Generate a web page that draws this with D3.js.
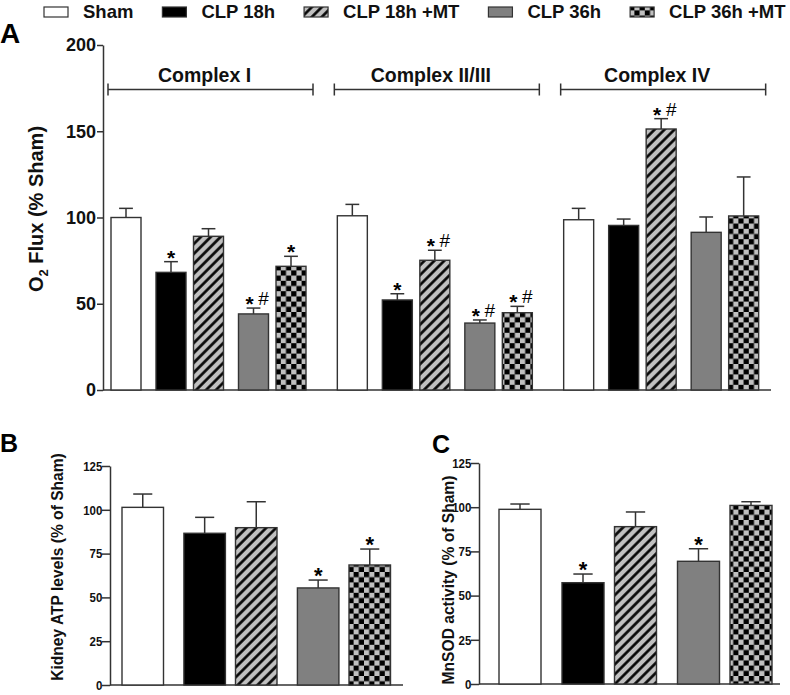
<!DOCTYPE html>
<html>
<head>
<meta charset="utf-8">
<script src="https://cdn.jsdelivr.net/npm/d3@7"></script>
<style>
	body { margin: 0; background: #fff; }
	svg { display: block; font-family: Arial, "Liberation Sans", sans-serif; }
</style>
</head>
<body>
<svg id="chart" width="790" height="695"></svg>
<script>
// ---- data ----
const groups = ["Sham", "CLP 18h", "CLP 18h +MT", "CLP 36h", "CLP 36h +MT"];
const complexes = ["Complex I", "Complex II/III", "Complex IV"];

// O2 flux (% Sham), one row per complex
const fluxMean = [
	[100, 68.2, 89.1, 44.1, 71.7],
	[101, 52.2, 75.2, 38.8, 44.8],
	[98.7, 95.4, 151.3, 91.4, 100.9]
];
const fluxErr = [
	[5.3, 6.2, 4.4, 3.4, 5.8],
	[6.6, 3.6, 5.8, 1.8, 3.7],
	[6.6, 3.7, 6.0, 8.9, 22.6]
];
const fluxSig = [
	["", "*", "", "*#", "*"],
	["", "*", "*#", "*#", "*#"],
	["", "", "*#", "", ""]
];

// kidney ATP levels (% of Sham)
const atpMean = [101.4, 86.6, 89.8, 55.4, 68.5];
const atpErr = [7.6, 9.1, 14.8, 4.5, 9.1];
const atpSig = ["", "", "", "*", "*"];

// MnSOD activity (% of Sham)
const sodMean = [98.8, 57.3, 89.0, 69.4, 101.0];
const sodErr = [3.0, 4.9, 8.3, 7.1, 2.1];
const sodSig = ["", "*", "", "*", ""];

const ticksA = [0, 50, 100, 150, 200];
const ticksBC = [0, 25, 50, 75, 100, 125];

// ---- svg / patterns ----
var svg = d3.select("#chart");
var defs = svg.append("defs");

var hatch = defs.append("pattern")
	.attr("id", "hatch")
	.attr("patternUnits", "userSpaceOnUse")
	.attr("width", 7).attr("height", 7)
	.attr("patternTransform", "rotate(45)");
hatch.append("rect").attr("width", 7).attr("height", 7).attr("fill", "#c0c0c0");
hatch.append("line")
	.attr("x1", 1.5).attr("y1", 0).attr("x2", 1.5).attr("y2", 7)
	.attr("stroke", "#000").attr("stroke-width", 2.6);

var cs = 5.2;
var checker = defs.append("pattern")
	.attr("id", "checker")
	.attr("patternUnits", "userSpaceOnUse")
	.attr("width", cs * 2).attr("height", cs * 2);
checker.append("rect").attr("width", cs * 2).attr("height", cs * 2).attr("fill", "#c0c0c0");
checker.append("rect").attr("width", cs).attr("height", cs).attr("fill", "#000");
checker.append("rect").attr("x", cs).attr("y", cs).attr("width", cs).attr("height", cs).attr("fill", "#000");

var fill = d3.scaleOrdinal()
	.domain(groups)
	.range(["#ffffff", "#000000", "url(#hatch)", "#808080", "url(#checker)"]);

var ink = "#333";

// bars 0 | 1 2 | 3 4  -> a little extra gap before 1 and 3
function slot(i) {
	return i + (i >= 1 ? 0.2 : 0) + (i >= 3 ? 0.2 : 0);
}

// ======== bars + error bars + significance marks ========
function drawBars(g, means, errs, sigs, xs, barW, y, starSize) {
	var rows = groups.map((name, i) => ({
		name: name, mean: means[i], err: errs[i], sig: sigs[i], x: xs(slot(i))
	}));

	// error bar (upper only)
	var eb = g.selectAll(".err").data(rows).enter().append("g").attr("class", "err");
	eb.append("line")
		.attr("x1", d => d.x + barW / 2).attr("x2", d => d.x + barW / 2)
		.attr("y1", d => y(d.mean)).attr("y2", d => y(d.mean + d.err))
		.attr("stroke", ink).attr("stroke-width", 1.5);
	eb.append("line")
		.attr("x1", d => d.x + barW / 2 - barW * 0.23)
		.attr("x2", d => d.x + barW / 2 + barW * 0.23)
		.attr("y1", d => y(d.mean + d.err)).attr("y2", d => y(d.mean + d.err))
		.attr("stroke", ink).attr("stroke-width", 1.5);

	g.selectAll(".bar").data(rows).enter().append("rect")
		.attr("class", "bar")
		.attr("x", d => d.x)
		.attr("y", d => y(d.mean))
		.attr("width", barW)
		.attr("height", d => y(0) - y(d.mean))
		.attr("fill", d => fill(d.name))
		.attr("stroke", ink)
		.attr("stroke-width", 1.4);

	// * and #
	rows.filter(d => d.sig).forEach(d => {
		var cx = d.x + barW / 2;
		var top = y(d.mean + d.err);
		var two = d.sig.length > 1;
		g.append("text")
			.attr("x", two ? cx - 4 : cx)
			.attr("y", top + 3)
			.attr("text-anchor", "middle")
			.style("font-size", starSize + "px")
			.style("font-weight", "bold")
			.text("*");
		if (two) {
			g.append("text")
				.attr("x", cx + 10)
				.attr("y", top - 3)
				.attr("text-anchor", "middle")
				.style("font-size", "19px")
				.text("#");
		}
	});
}

function drawYAxis(g, y, x, ticks, tickLen, font, squeeze) {
	var ax = g.append("g")
		.attr("transform", `translate(${x},0)`)
		.call(d3.axisLeft(y).tickValues(ticks).tickSize(tickLen).tickSizeOuter(0).tickPadding(1));
	ax.select(".domain").attr("stroke", ink).attr("stroke-width", 1.5);
	ax.selectAll(".tick line").attr("stroke", ink).attr("stroke-width", 1.5);
	ax.selectAll(".tick text")
		.attr("fill", "#111")
		.attr("transform", `scale(${squeeze},1)`)
		.style("font-size", font + "px")
		.style("font-weight", "bold")
		.style("font-family", "Arial, 'Liberation Sans', sans-serif");
}

function drawXLine(g, y, x1, x2) {
	g.append("line")
		.attr("x1", x1).attr("x2", x2)
		.attr("y1", y(0)).attr("y2", y(0))
		.attr("stroke", ink).attr("stroke-width", 1.5);
}

// ======== legend ========
function drawLegend() {
	var lg = svg.append("g").attr("class", "legend");
	var cx = 44;
	groups.forEach(name => {
		lg.append("rect")
			.attr("x", cx).attr("y", 7)
			.attr("width", 24).attr("height", 10)
			.attr("fill", fill(name))
			.attr("stroke", ink).attr("stroke-width", 1.2);
		var t = lg.append("text")
			.attr("x", cx + 39).attr("y", 18)
			.style("font-size", "18.5px")
			.style("font-weight", "bold")
			.attr("fill", "#111")
			.text(name);
		cx += 39 + t.node().getComputedTextLength() + 29;
	});
}

// ======== panel A: O2 flux ========
function drawPanelA() {
	var g = svg.append("g").attr("class", "panelA");
	var y = d3.scaleLinear().domain([0, 200]).range([390, 45]);
	var x0 = d3.scaleBand().domain(complexes).range([103, 782]);

	drawXLine(g, y, 103, 771);

	complexes.forEach((c, k) => {
		var b = x0(c);
		var xs = d3.scaleLinear().domain([0, slot(4)]).range([b + 8, b + 8 + 165]);
		drawBars(g.append("g"), fluxMean[k], fluxErr[k], fluxSig[k], xs, 30, y, 21);

		// bracket + title
		var l = b + 5, r = b + 210, by = 89.5;
		g.append("path")
			.attr("d", `M${l},${by - 6}V${by + 6}M${l},${by}H${r}M${r},${by - 6}V${by + 6}`)
			.attr("fill", "none").attr("stroke", ink).attr("stroke-width", 1.5);
		g.append("text")
			.attr("x", (l + r) / 2 - 6)
			.attr("y", 81.5)
			.attr("text-anchor", "middle")
			.style("font-size", "19.5px")
			.style("font-weight", "bold")
			.attr("fill", "#111")
			.text(c);
	});

	drawYAxis(g, y, 103, ticksA, 6, 18, 1);

	var lab = g.append("text")
		.attr("transform", "translate(43,209) rotate(-90)")
		.attr("text-anchor", "middle")
		.style("font-size", "20px")
		.style("font-weight", "bold")
		.attr("fill", "#111");
	lab.append("tspan").text("O");
	lab.append("tspan").attr("dy", 5).style("font-size", "13px").text("2");
	lab.append("tspan").attr("dy", -5).text(" Flux (% Sham)");

	svg.append("text")
		.attr("x", 0).attr("y", 43)
		.style("font-size", "28px").style("font-weight", "bold")
		.text("A");
}

// ======== panels B, C ========
function drawSmallPanel(o) {
	var g = svg.append("g");
	var y = d3.scaleLinear().domain([0, 125]).range([o.y0, o.y125]);
	var xs = d3.scaleLinear().domain([0, slot(4)]).range([o.bar0, o.bar4]);

	drawXLine(g, y, o.axisX, o.axisEnd);
	drawBars(g, o.mean, o.err, o.sig, xs, o.barW, y, 22);
	drawYAxis(g, y, o.axisX, ticksBC, 8, 13.5, 0.85);

	g.append("text")
		.attr("transform", `translate(${o.labelX},${o.labelY}) rotate(-90)`)
		.attr("text-anchor", "middle")
		.style("font-size", "15.6px")
		.style("font-weight", "bold")
		.attr("fill", "#111")
		.text(o.label);

	svg.append("text")
		.attr("x", o.letterX).attr("y", o.letterY)
		.style("font-size", "25px").style("font-weight", "bold")
		.text(o.letter);
}

drawLegend();
drawPanelA();

drawSmallPanel({
	mean: atpMean, err: atpErr, sig: atpSig,
	y0: 685, y125: 466, axisX: 110, axisEnd: 403,
	bar0: 122, bar4: 349, barW: 41.5,
	label: "Kidney ATP levels (% of Sham)", labelX: 63, labelY: 567,
	letter: "B", letterX: 0, letterY: 452
});

drawSmallPanel({
	mean: sodMean, err: sodErr, sig: sodSig,
	y0: 684, y125: 463, axisX: 479, axisEnd: 780,
	bar0: 499, bar4: 730, barW: 42,
	label: "MnSOD activity (% of Sham)", labelX: 454, labelY: 580,
	letter: "C", letterX: 432, letterY: 453
});
</script>
</body>
</html>
